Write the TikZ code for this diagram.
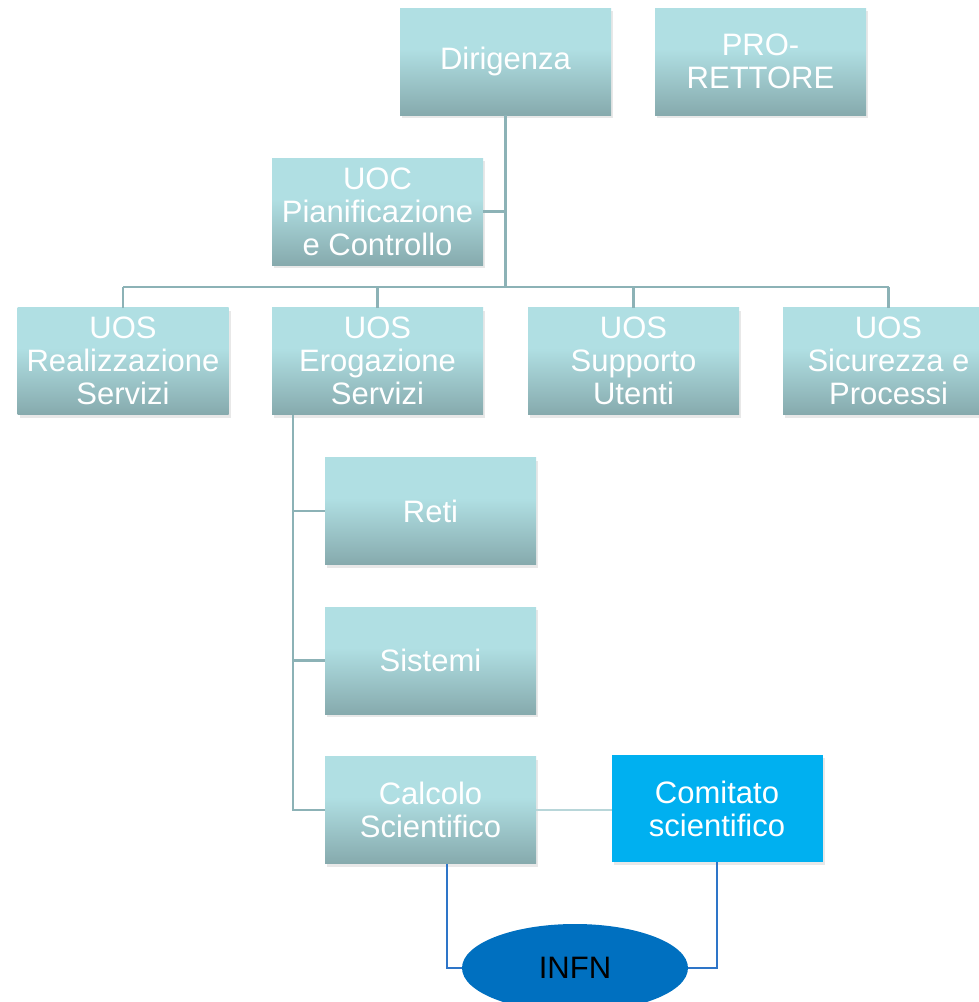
\documentclass[tikz,border=0pt]{standalone}
\usepackage{fontspec}
\setmainfont{Liberation Sans}
\usetikzlibrary{shapes.geometric,shadows,calc}
\definecolor{btop}{RGB}{176,223,227}
\definecolor{bbot}{RGB}{134,170,173}
\definecolor{tline}{RGB}{140,178,182}
\definecolor{lline}{RGB}{184,214,217}
\definecolor{comfill}{RGB}{0,176,240}
\definecolor{infnfill}{RGB}{0,112,192}
\definecolor{bline}{RGB}{46,117,200}
\pgfdeclareverticalshading{boxshade}{100bp}{color(0bp)=(bbot); color(25bp)=(bbot); color(56bp)=(btop); color(100bp)=(btop)}
\begin{document}
\begin{tikzpicture}[x=1pt,y=-1pt,
  basebox/.style={minimum width=211pt, minimum height=107pt, inner sep=0pt, outer sep=0pt,
    text=white, font=\fontsize{31}{33}\selectfont, align=center,
    drop shadow={shadow xshift=2pt, shadow yshift=-3pt, opacity=0.18}},
  orgbox/.style={basebox, shading=boxshade},
  combox/.style={basebox, fill=comfill},
  tree/.style={draw=tline, line width=2.2pt},
  lite/.style={draw=lline, line width=2.2pt},
  blue/.style={draw=bline, line width=2pt}]
\useasboundingbox (0,0) rectangle (979,1002);
\fill[white] (0,0) rectangle (979,1002);

\node[orgbox] (dir) at (505.5,61.5) {\raisebox{-2pt}{Dirigenza}};
\node[orgbox] (pro) at (760.5,61.5) {PRO-\\RETTORE};
\node[orgbox] (uoc) at (377.5,211.5) {UOC\\Pianificazione\\e Controllo};
\node[orgbox] (u1) at (123,361) {UOS\\Realizzazione\\Servizi};
\node[orgbox] (u2) at (377.5,361) {UOS\\Erogazione\\Servizi};
\node[orgbox] (u3) at (633.5,361) {UOS\\Supporto\\Utenti};
\node[orgbox] (u4) at (888.5,361) {UOS\\Sicurezza e\\Processi};
\node[orgbox] (reti) at (430.5,511) {\raisebox{-2pt}{Reti}};
\node[orgbox] (sis) at (430.5,660.5) {\raisebox{-2pt}{Sistemi}};
\node[orgbox] (calc) at (430.5,810) {Calcolo\\Scientifico};
\node[combox] (com) at (717,808.5) {Comitato\\scientifico};
\node[ellipse, fill=infnfill, minimum width=226pt, minimum height=88pt, inner sep=0pt,
  font=\fontsize{31}{33}\selectfont, text=black] (infn) at (575,968) {INFN};

\coordinate (hb) at (505.5,287);
\coordinate (tr) at ($(u2.south west)+(21,0)$);
\coordinate (cb) at ($(calc.south west)+(122,0)$);

\draw[tree] (dir.south) -- (hb);
\draw[tree] (uoc.east) -- (uoc.east -| hb);
\draw[tree] (u1.north |- hb) -- (u4.north |- hb);
\draw[tree] (u1.north) -- (u1.north |- hb);
\draw[tree] (u2.north) -- (u2.north |- hb);
\draw[tree] (u3.north) -- (u3.north |- hb);
\draw[tree] (u4.north) -- (u4.north |- hb);
\draw[tree] (tr) |- (calc.west);
\draw[tree] (tr |- reti.west) -- (reti.west);
\draw[tree] (tr |- sis.west) -- (sis.west);
\draw[lite] (calc.east) -- (calc.east -| com.west);
\draw[blue] (cb) |- (infn.west);
\draw[blue] (com.south) |- (infn.east);
\end{tikzpicture}
\end{document}
